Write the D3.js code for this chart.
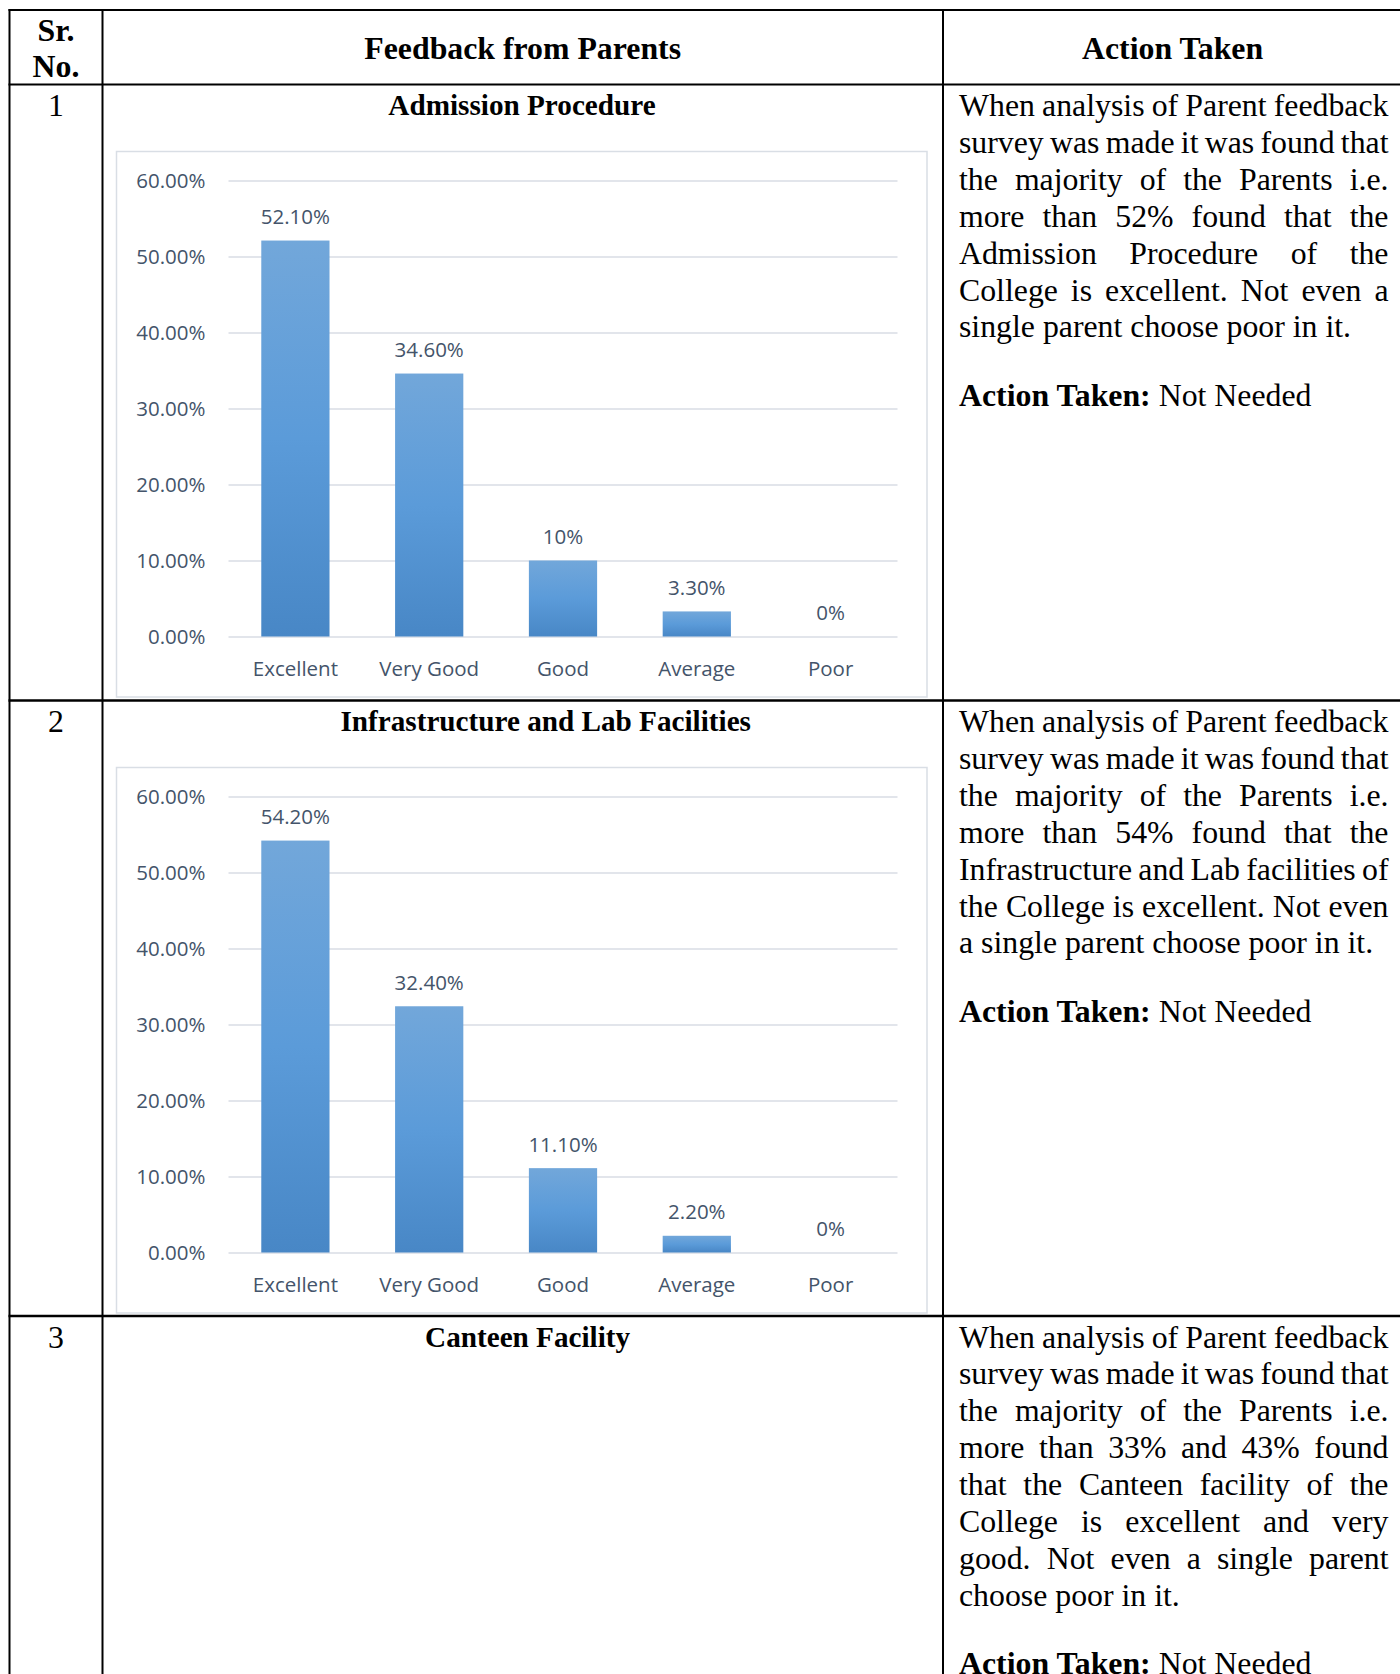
<!DOCTYPE html>
<html>
<head>
<meta charset="utf-8">
<script src="https://cdn.jsdelivr.net/npm/d3@7"></script>
<style>
  body { margin: 0; background: #fff; }
  svg { display: block; }
  .serif { font-family: "Liberation Serif", "Times New Roman", serif; fill: #000; }
  .chart text { font-family: "Open Sans", sans-serif; fill: #44546a; }
</style>
</head>
<body>
<svg id="page"></svg>
<script>
// data
var categories = ["Excellent", "Very Good", "Good", "Average", "Poor"];
var admissionValues = [52.1, 34.6, 10, 3.3, 0];
var admissionLabels = ["52.10%", "34.60%", "10%", "3.30%", "0%"];
var infraValues = [54.2, 32.4, 11.1, 2.2, 0];
var infraLabels = ["54.20%", "32.40%", "11.10%", "2.20%", "0%"];
var yTicks = [0, 10, 20, 30, 40, 50, 60];

var headerTitles = ["Feedback from Parents", "Action Taken"];
var rowNumbers = ["1", "2", "3"];
var rowTitles = ["Admission Procedure", "Infrastructure and Lab Facilities", "Canteen Facility"];

var row1Lines = [
  "When analysis of Parent feedback",
  "survey was made it was found that",
  "the majority of the Parents i.e.",
  "more than 52% found that the",
  "Admission Procedure of the",
  "College is excellent. Not even a",
  "single parent choose poor in it."
];
var row2Lines = [
  "When analysis of Parent feedback",
  "survey was made it was found that",
  "the majority of the Parents i.e.",
  "more than 54% found that the",
  "Infrastructure and Lab facilities of",
  "the College is excellent. Not even",
  "a single parent choose poor in it."
];
var row3Lines = [
  "When analysis of Parent feedback",
  "survey was made it was found that",
  "the majority of the Parents i.e.",
  "more than 33% and 43% found",
  "that the Canteen facility of the",
  "College is excellent and very",
  "good. Not even a single parent",
  "choose poor in it."
];

//begin: layout conf.
var svgWidth = 1400,
    svgHeight = 1674,
    colX = [9.5, 102.5, 943],
    tableTop = 10,
    headerBottom = 84.5,
    rowTops = [84.5, 700.5, 1316],
    titleX = [522, 545.7, 527.6],
    firstBaseline = 31.5,
    lineHeight = 36.9,
    actionGap = 68.4,
    textLeft = 959,
    textRight = 1388.5,
    bodySize = 31.8,
    titleSize = 29.2;

var chartBox = {x0: 116.5, x1: 927, y0: 67, y1: 612.5},
    plot = {x0: 228.5, x1: 897.5, y0: 96, y1: 552};
//end: layout conf.

var svg = d3.select("#page")
    .attr("width", svgWidth)
    .attr("height", svgHeight);

svg.append("rect")
    .attr("width", svgWidth)
    .attr("height", svgHeight)
    .attr("fill", "#fff");

var defs = svg.append("defs");
var grad = defs.append("linearGradient")
    .attr("id", "barGrad")
    .attr("x1", 0).attr("y1", 0).attr("x2", 0).attr("y2", 1);
grad.append("stop").attr("offset", "0%").attr("stop-color", "#72a7da");
grad.append("stop").attr("offset", "50%").attr("stop-color", "#5b9bd9");
grad.append("stop").attr("offset", "100%").attr("stop-color", "#4887c6");

drawHeader();
rowTops.forEach(function(top, i) { drawRowText(top, i); });
drawChart(rowTops[0], admissionValues, admissionLabels);
drawChart(rowTops[1], infraValues, infraLabels);
drawGrid();

function drawGrid() {
  var g = svg.append("g").attr("stroke", "#000");
  [tableTop, headerBottom].concat(rowTops.slice(1)).forEach(function(y) {
    g.append("line")
        .attr("x1", colX[0] - 1).attr("x2", svgWidth)
        .attr("y1", y).attr("y2", y)
        .attr("stroke-width", y == tableTop || y == headerBottom ? 2 : 2.5);
  });
  colX.forEach(function(x) {
    g.append("line")
        .attr("x1", x).attr("x2", x)
        .attr("y1", tableTop - 1).attr("y2", svgHeight)
        .attr("stroke-width", 2);
  });
}

function drawHeader() {
  var g = svg.append("g").classed("serif", true)
      .style("font-weight", "bold")
      .style("font-size", bodySize + "px")
      .attr("text-anchor", "middle");
  var cx = (colX[0] + colX[1]) / 2;
  g.append("text").attr("x", cx).attr("y", 40.5).text("Sr.");
  g.append("text").attr("x", cx).attr("y", 77).text("No.");
  g.append("text").attr("x", 522.7).attr("y", 58.5).text(headerTitles[0]);
  g.append("text").attr("x", 1172.6).attr("y", 58.5).text(headerTitles[1]);
}

function drawRowText(top, i) {
  var g = svg.append("g").classed("serif", true)
      .style("font-size", bodySize + "px");
  var base = top + firstBaseline;

  g.append("text")
      .attr("x", (colX[0] + colX[1]) / 2)
      .attr("y", base)
      .attr("text-anchor", "middle")
      .text(rowNumbers[i]);

  g.append("text")
      .attr("x", titleX[i])
      .attr("y", base - 1)
      .attr("text-anchor", "middle")
      .style("font-weight", "bold")
      .style("font-size", titleSize + "px")
      .text(rowTitles[i]);

  var lines = [row1Lines, row2Lines, row3Lines][i];
  lines.forEach(function(line, k) {
    var y = base + k * lineHeight;
    if (k == lines.length - 1) {
      g.append("text").attr("x", textLeft).attr("y", y).text(line);
      return;
    }
    var words = line.split(" ");
    var nodes = words.map(function(w) {
      return g.append("text").attr("y", y).text(w);
    });
    var widths = nodes.map(function(n) { return n.node().getComputedTextLength(); });
    var gap = (textRight - textLeft - d3.sum(widths)) / (words.length - 1);
    var x = textLeft;
    nodes.forEach(function(n, j) {
      n.attr("x", x);
      x += widths[j] + gap;
    });
  });

  var action = g.append("text")
      .attr("x", textLeft)
      .attr("y", base + (lines.length - 1) * lineHeight + actionGap);
  action.append("tspan").style("font-weight", "bold").text("Action Taken:");
  action.append("tspan").text(" Not Needed");
}

function drawChart(top, values, labels) {
  var g = svg.append("g")
      .classed("chart", true)
      .attr("transform", "translate(0," + top + ")");

  g.append("rect")
      .attr("x", chartBox.x0).attr("y", chartBox.y0)
      .attr("width", chartBox.x1 - chartBox.x0)
      .attr("height", chartBox.y1 - chartBox.y0)
      .attr("fill", "#fff")
      .attr("stroke", "#d9dee5")
      .attr("stroke-width", 1.5);

  var x = d3.scaleBand()
      .domain(categories)
      .range([plot.x0, plot.x1])
      .paddingInner(0.49)
      .paddingOuter(0.245);
  var y = d3.scaleLinear()
      .domain([0, 60])
      .range([plot.y1, plot.y0]);

  var yAxis = g.append("g")
      .attr("transform", "translate(" + plot.x0 + ",0)")
      .call(d3.axisLeft(y)
        .tickValues(yTicks)
        .tickSize(-(plot.x1 - plot.x0))
        .tickPadding(23)
        .tickFormat(function(d) { return d.toFixed(2) + "%"; }));
  yAxis.select(".domain").remove();
  yAxis.selectAll(".tick line").attr("stroke", "#d9dde4").attr("stroke-width", 1.5);
  yAxis.selectAll(".tick text").style("font-size", "20.5px");

  var xAxis = g.append("g")
      .attr("transform", "translate(0," + plot.y1 + ")")
      .call(d3.axisBottom(x).tickSize(0).tickPadding(25));
  xAxis.select(".domain").remove();
  xAxis.selectAll(".tick text").style("font-size", "20.5px");

  g.selectAll(".bar")
      .data(values)
      .enter()
      .append("rect")
      .classed("bar", true)
      .attr("x", function(d, i) { return x(categories[i]); })
      .attr("y", function(d) { return y(d); })
      .attr("width", x.bandwidth())
      .attr("height", function(d) { return plot.y1 - y(d); })
      .attr("fill", "url(#barGrad)");

  g.selectAll(".bar-label")
      .data(values)
      .enter()
      .append("text")
      .classed("bar-label", true)
      .attr("x", function(d, i) { return x(categories[i]) + x.bandwidth() / 2; })
      .attr("y", function(d) { return y(d) - 24; })
      .attr("dy", "0.36em")
      .attr("text-anchor", "middle")
      .style("font-size", "20.5px")
      .text(function(d, i) { return labels[i]; });
}
</script>
</body>
</html>
